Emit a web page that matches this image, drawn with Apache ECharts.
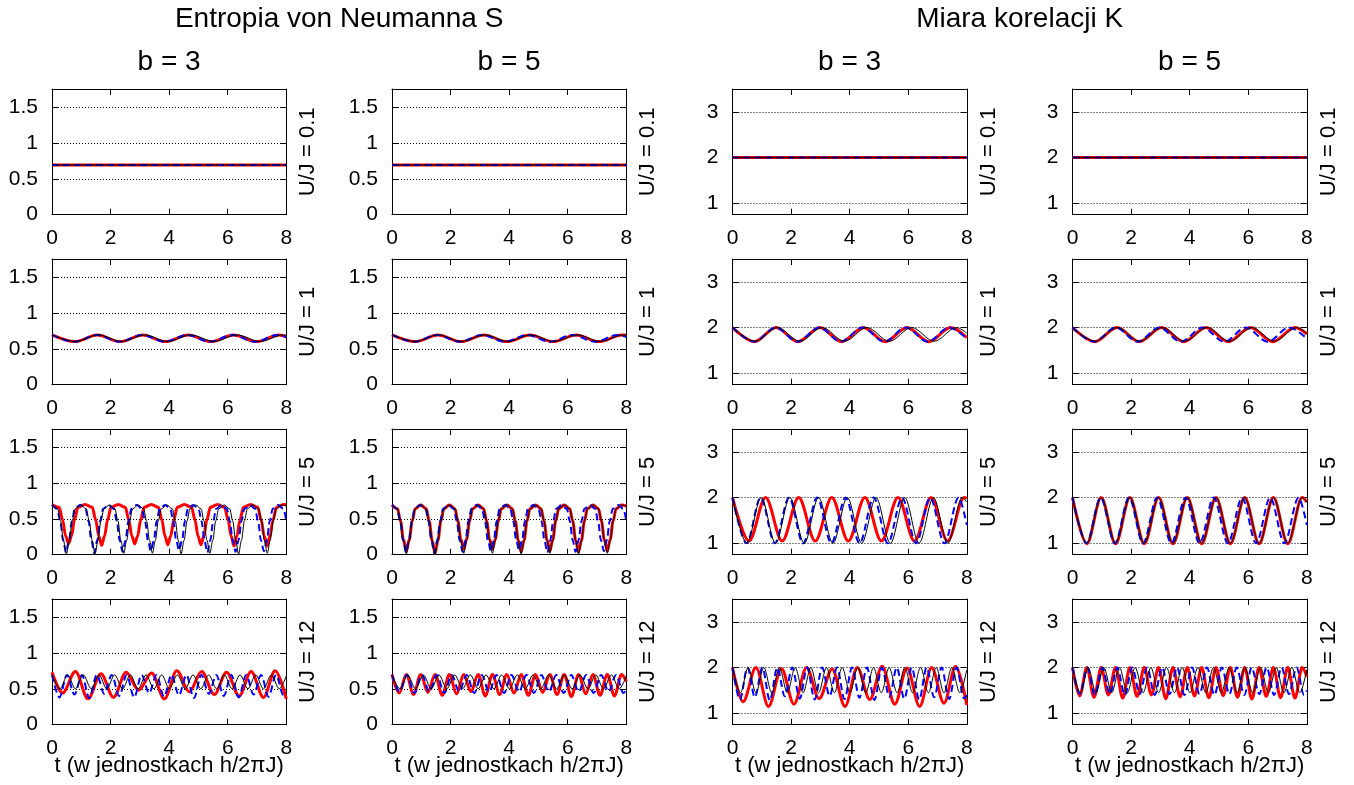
<!DOCTYPE html>
<html>
<head>
<meta charset="utf-8">
<script src="https://cdn.jsdelivr.net/npm/echarts@6/dist/echarts.min.js"></script>
<style>
  html, body { margin: 0; padding: 0; background: #fff; }
  #chart { width: 1354px; height: 785px; }
</style>
</head>
<body>
<div id="chart"></div>
<script>
// ---- text ----
const GROUP_TITLES = ['Entropia von Neumanna S', 'Miara korelacji K'];
const COL_TITLES = ['b = 3', 'b = 5', 'b = 3', 'b = 5'];
const ROW_LABELS = ['U/J = 0.1', 'U/J = 1', 'U/J = 5', 'U/J = 12'];
const X_NAME = 't (w jednostkach h/2\u03C0J)';

// ---- ticks ----
const X_TICKS = [0, 2, 4, 6, 8];
const S_TICKS = [0, 0.5, 1, 1.5];
const K_TICKS = [1, 2, 3];
const S_GRID = [0.5, 1, 1.5];
const K_GRID = [1, 2, 3];

// ---- U/J = 0.1 ----
const S_u01 = [[0,0.693],[2,0.693],[4,0.693],[6,0.693],[8,0.693]];
const K_u01 = [[0,2],[2,2],[4,2],[6,2],[8,2]];

// ---- U/J = 1 ----
const S_u1_red3 = [[0,0.693],[0.775,0.6],[1.55,0.693],[2.325,0.6],[3.1,0.693],[3.875,0.6],[4.65,0.693],[5.425,0.6],[6.2,0.693],[6.975,0.6],[7.75,0.693],[8,0.667]];
const S_u1_blue = [[0,0.693],[0.77,0.598],[1.54,0.693],[2.31,0.598],[3.08,0.693],[3.85,0.598],[4.62,0.693],[5.39,0.598],[6.16,0.693],[6.93,0.598],[7.7,0.693],[8,0.662]];
const S_u1_black = [[0,0.693],[0.79,0.602],[1.58,0.693],[2.37,0.602],[3.16,0.693],[3.95,0.602],[4.74,0.693],[5.53,0.602],[6.32,0.693],[7.11,0.602],[7.9,0.693],[8,0.69]];
const S_u1_red5 = [[0,0.693],[0.785,0.6],[1.57,0.693],[2.355,0.6],[3.14,0.693],[3.925,0.6],[4.71,0.693],[5.495,0.6],[6.28,0.693],[7.065,0.6],[7.85,0.693],[8,0.687]];

const K_u1_red3 = [[0,2],[0.745,1.69],[1.49,2],[2.235,1.69],[2.98,2],[3.725,1.69],[4.47,2],[5.215,1.69],[5.96,2],[6.705,1.69],[7.45,2],[8,1.78]];
const K_u1_blue = [[0,2],[0.74,1.69],[1.48,2],[2.22,1.69],[2.96,2],[3.7,1.69],[4.44,2],[5.18,1.69],[5.92,2],[6.66,1.69],[7.4,2],[8,1.76]];
const K_u1_black = [[0,2],[0.765,1.7],[1.53,2],[2.295,1.7],[3.06,2],[3.825,1.7],[4.59,2],[5.355,1.7],[6.12,2],[6.885,1.7],[7.65,2],[8,1.88]];
const K_u1_red5 = [[0,2],[0.76,1.69],[1.52,2],[2.28,1.69],[3.04,2],[3.8,1.69],[4.56,2],[5.32,1.69],[6.08,2],[6.84,1.69],[7.6,2],[8,1.86]];

// ---- U/J = 5 ----
const S_u5_black = [[0,0.693],
  [0.19,0.638],[0.29,0.47],[0.39,0.2],[0.49,0.01],[0.59,0.2],[0.69,0.47],[0.79,0.638],[0.98,0.693],
  [1.17,0.638],[1.27,0.47],[1.37,0.2],[1.47,0.01],[1.57,0.2],[1.67,0.47],[1.77,0.638],[1.96,0.693],
  [2.15,0.638],[2.25,0.47],[2.35,0.2],[2.45,0.02],[2.55,0.2],[2.65,0.47],[2.75,0.638],[2.94,0.693],
  [3.13,0.638],[3.23,0.47],[3.33,0.2],[3.43,0.02],[3.53,0.2],[3.63,0.47],[3.73,0.638],[3.92,0.693],
  [4.11,0.638],[4.21,0.47],[4.31,0.2],[4.41,0.01],[4.51,0.2],[4.61,0.47],[4.71,0.638],[4.9,0.693],
  [5.09,0.638],[5.19,0.47],[5.29,0.2],[5.39,0.02],[5.49,0.2],[5.59,0.47],[5.69,0.638],[5.88,0.693],
  [6.07,0.638],[6.17,0.47],[6.27,0.2],[6.37,0.01],[6.47,0.2],[6.57,0.47],[6.67,0.638],[6.86,0.693],
  [7.05,0.638],[7.15,0.47],[7.25,0.2],[7.35,0.02],[7.45,0.2],[7.55,0.47],[7.65,0.638],[7.84,0.693],
  [8,0.675]];
const S_u5_red5 = [[0,0.693],
  [0.19,0.638],[0.29,0.47],[0.39,0.21],[0.49,0.05],[0.59,0.21],[0.69,0.47],[0.79,0.638],[0.98,0.693],
  [1.17,0.638],[1.27,0.47],[1.37,0.2],[1.47,0.02],[1.57,0.2],[1.67,0.47],[1.77,0.638],[1.96,0.693],
  [2.15,0.638],[2.25,0.47],[2.35,0.22],[2.45,0.08],[2.55,0.22],[2.65,0.47],[2.75,0.638],[2.94,0.693],
  [3.13,0.638],[3.23,0.47],[3.33,0.22],[3.43,0.08],[3.53,0.22],[3.63,0.47],[3.73,0.638],[3.92,0.693],
  [4.11,0.638],[4.21,0.47],[4.31,0.2],[4.41,0.04],[4.51,0.2],[4.61,0.47],[4.71,0.638],[4.9,0.693],
  [5.09,0.638],[5.19,0.47],[5.29,0.21],[5.39,0.05],[5.49,0.21],[5.59,0.47],[5.69,0.638],[5.88,0.693],
  [6.07,0.638],[6.17,0.47],[6.27,0.2],[6.37,0.04],[6.47,0.2],[6.57,0.47],[6.67,0.638],[6.86,0.693],
  [7.05,0.638],[7.15,0.47],[7.25,0.21],[7.35,0.05],[7.45,0.21],[7.55,0.47],[7.65,0.638],[7.84,0.693],
  [8,0.675]];
const S_u5_blue = [[0,0.693],
  [0.18,0.638],[0.28,0.47],[0.38,0.2],[0.48,0.03],[0.58,0.2],[0.68,0.47],[0.78,0.638],[0.96,0.693],
  [1.145,0.638],[1.245,0.47],[1.345,0.2],[1.445,0.02],[1.545,0.2],[1.645,0.47],[1.745,0.638],[1.93,0.693],
  [2.11,0.638],[2.21,0.47],[2.31,0.2],[2.41,0.04],[2.51,0.2],[2.61,0.47],[2.71,0.638],[2.89,0.693],
  [3.075,0.638],[3.175,0.47],[3.275,0.2],[3.375,0.05],[3.475,0.2],[3.575,0.47],[3.675,0.638],[3.86,0.693],
  [4.04,0.638],[4.14,0.47],[4.24,0.2],[4.34,0.06],[4.44,0.2],[4.54,0.47],[4.64,0.638],[4.82,0.693],
  [5.005,0.638],[5.105,0.47],[5.205,0.2],[5.305,0.03],[5.405,0.2],[5.505,0.47],[5.605,0.638],[5.79,0.693],
  [5.97,0.638],[6.07,0.47],[6.17,0.2],[6.27,0.04],[6.37,0.2],[6.47,0.47],[6.57,0.638],[6.75,0.693],
  [6.935,0.638],[7.035,0.47],[7.135,0.2],[7.235,0.05],[7.335,0.2],[7.435,0.47],[7.535,0.638],[7.72,0.693],
  [7.9,0.638],[8,0.47]];
const S_u5_red3 = [[0,0.70],
  [0.245,0.66],[0.365,0.48],[0.465,0.26],[0.565,0.15],[0.665,0.26],[0.765,0.48],[0.885,0.66],[1.13,0.70],
  [1.375,0.66],[1.495,0.48],[1.595,0.26],[1.695,0.13],[1.795,0.26],[1.895,0.48],[2.015,0.66],[2.26,0.70],
  [2.505,0.66],[2.625,0.48],[2.725,0.26],[2.825,0.15],[2.925,0.26],[3.025,0.48],[3.145,0.66],[3.39,0.70],
  [3.635,0.66],[3.755,0.48],[3.855,0.26],[3.955,0.14],[4.055,0.26],[4.155,0.48],[4.275,0.66],[4.52,0.70],
  [4.765,0.66],[4.885,0.48],[4.985,0.26],[5.085,0.14],[5.185,0.26],[5.285,0.48],[5.405,0.66],[5.65,0.70],
  [5.895,0.66],[6.015,0.48],[6.115,0.26],[6.215,0.12],[6.315,0.26],[6.415,0.48],[6.535,0.66],[6.78,0.70],
  [7.025,0.66],[7.145,0.48],[7.245,0.26],[7.345,0.12],[7.445,0.26],[7.545,0.48],[7.665,0.66],[7.91,0.70],
  [8,0.70]];

const K_u5_black = [[0,2],[0.49,1],[0.98,2],[1.47,1],[1.96,2],[2.45,1],[2.94,2],[3.43,1],[3.92,2],[4.41,1],[4.9,2],[5.39,1],[5.88,2],[6.37,1],[6.86,2],[7.35,1],[7.84,2],[8,1.9]];
const K_u5_red5 = [[0,2],[0.49,0.99],[0.98,2],[1.47,0.99],[1.96,2],[2.45,0.99],[2.94,2],[3.43,0.99],[3.92,2],[4.41,0.99],[4.9,2],[5.39,0.99],[5.88,2],[6.37,0.99],[6.86,2],[7.35,0.99],[7.84,2],[8,1.9]];
const K_u5_blue = [[0,2],[0.48,1],[0.96,2],[1.445,1],[1.93,2],[2.41,1],[2.89,2],[3.375,1],[3.86,2],[4.34,1],[4.82,2],[5.305,1],[5.79,2],[6.27,1],[6.75,2],[7.235,1],[7.72,2],[8,1.4]];
const K_u5_red3 = [[0,2],[0.565,1.05],[1.13,2],[1.695,1.05],[2.26,2],[2.825,1.05],[3.39,2],[3.955,1.05],[4.52,2],[5.085,1.05],[5.65,2],[6.215,1.05],[6.78,2],[7.345,1.05],[7.91,2],[8,1.98]];

// ---- U/J = 12 ----
const S_u12_black = [[0,0.693],[0.27,0.5],[0.535,0.693],[0.8,0.5],[1.07,0.693],[1.34,0.5],[1.605,0.693],[1.87,0.5],[2.14,0.693],[2.41,0.5],[2.675,0.693],[2.94,0.5],[3.21,0.693],[3.48,0.5],[3.745,0.693],[4.01,0.5],[4.28,0.693],[4.55,0.5],[4.815,0.693],[5.08,0.5],[5.35,0.693],[5.62,0.5],[5.885,0.693],[6.15,0.5],[6.42,0.693],[6.69,0.5],[6.955,0.693],[7.22,0.5],[7.49,0.693],[7.76,0.5],[8,0.68]];
const K_u12_black = [[0,2],[0.27,1.45],[0.535,2],[0.8,1.45],[1.07,2],[1.34,1.45],[1.605,2],[1.87,1.45],[2.14,2],[2.41,1.45],[2.675,2],[2.94,1.45],[3.21,2],[3.48,1.45],[3.745,2],[4.01,1.45],[4.28,2],[4.55,1.45],[4.815,2],[5.08,1.45],[5.35,2],[5.62,1.45],[5.885,2],[6.15,1.45],[6.42,2],[6.69,1.45],[6.955,2],[7.22,1.45],[7.49,2],[7.76,1.45],[8,1.95]];

const S_u12_blue3 = [[0,0.693],[0.255,0.38],[0.51,0.693],[0.765,0.42],[1.02,0.693],[1.275,0.37],[1.53,0.693],[1.785,0.43],[2.04,0.693],[2.295,0.4],[2.55,0.693],[2.805,0.38],[3.06,0.693],[3.315,0.44],[3.57,0.693],[3.825,0.39],[4.08,0.693],[4.335,0.41],[4.59,0.693],[4.845,0.37],[5.1,0.693],[5.355,0.43],[5.61,0.693],[5.865,0.4],[6.12,0.693],[6.375,0.38],[6.63,0.693],[6.885,0.42],[7.14,0.693],[7.395,0.39],[7.65,0.693],[7.905,0.41],[8,0.45]];
const K_u12_blue3 = [[0,2],[0.255,1.3],[0.51,2],[0.765,1.35],[1.02,2],[1.275,1.28],[1.53,2],[1.785,1.37],[2.04,2],[2.295,1.32],[2.55,2],[2.805,1.3],[3.06,2],[3.315,1.38],[3.57,2],[3.825,1.31],[4.08,2],[4.335,1.34],[4.59,2],[4.845,1.29],[5.1,2],[5.355,1.36],[5.61,2],[5.865,1.32],[6.12,2],[6.375,1.3],[6.63,2],[6.885,1.35],[7.14,2],[7.395,1.31],[7.65,2],[7.905,1.33],[8,1.4]];
const S_u12_blue5 = [[0,0.693],[0.255,0.46],[0.51,0.693],[0.765,0.44],[1.02,0.693],[1.275,0.46],[1.53,0.693],[1.785,0.44],[2.04,0.693],[2.295,0.46],[2.55,0.693],[2.805,0.44],[3.06,0.693],[3.315,0.46],[3.57,0.693],[3.825,0.44],[4.08,0.693],[4.335,0.46],[4.59,0.693],[4.845,0.44],[5.1,0.693],[5.355,0.46],[5.61,0.693],[5.865,0.44],[6.12,0.693],[6.375,0.46],[6.63,0.693],[6.885,0.44],[7.14,0.693],[7.395,0.46],[7.65,0.693],[7.905,0.44],[8,0.5]];
const K_u12_blue5 = [[0,2],[0.255,1.42],[0.51,2],[0.765,1.4],[1.02,2],[1.275,1.42],[1.53,2],[1.785,1.4],[2.04,2],[2.295,1.42],[2.55,2],[2.805,1.4],[3.06,2],[3.315,1.42],[3.57,2],[3.825,1.4],[4.08,2],[4.335,1.42],[4.59,2],[4.845,1.4],[5.1,2],[5.355,1.42],[5.61,2],[5.865,1.4],[6.12,2],[6.375,1.42],[6.63,2],[6.885,1.4],[7.14,2],[7.395,1.42],[7.65,2],[7.905,1.4],[8,1.5]];

const S_u12_red5 = [[0,0.70],[0.245,0.44],[0.49,0.70],[0.735,0.42],[0.98,0.70],[1.225,0.45],[1.47,0.70],[1.715,0.41],[1.96,0.70],[2.205,0.43],[2.45,0.70],[2.695,0.46],[2.94,0.70],[3.185,0.4],[3.43,0.70],[3.675,0.42],[3.92,0.70],[4.165,0.44],[4.41,0.70],[4.655,0.41],[4.9,0.70],[5.145,0.45],[5.39,0.70],[5.635,0.42],[5.88,0.70],[6.125,0.39],[6.37,0.70],[6.615,0.43],[6.86,0.70],[7.105,0.41],[7.35,0.70],[7.595,0.4],[7.84,0.70],[8,0.6]];
const K_u12_red5 = [[0,2],[0.245,1.38],[0.49,2],[0.735,1.35],[0.98,2],[1.225,1.4],[1.47,2],[1.715,1.33],[1.96,2],[2.205,1.37],[2.45,2],[2.695,1.4],[2.94,2],[3.185,1.32],[3.43,2],[3.675,1.36],[3.92,2],[4.165,1.38],[4.41,2],[4.655,1.34],[4.9,2],[5.145,1.39],[5.39,2],[5.635,1.35],[5.88,2],[6.125,1.31],[6.37,2],[6.615,1.37],[6.86,2],[7.105,1.34],[7.35,2],[7.595,1.33],[7.84,2],[8,1.8]];

const S_u12_red3 = [[0,0.73],[0.36,0.44],[0.8,0.74],[1.23,0.36],[1.67,0.71],[2.1,0.38],[2.53,0.73],[2.96,0.48],[3.4,0.72],[3.84,0.36],[4.26,0.75],[4.69,0.46],[5.11,0.74],[5.54,0.42],[5.96,0.73],[6.39,0.4],[6.8,0.74],[7.22,0.38],[7.62,0.75],[8,0.36]];
const K_u12_red3 = [[0,2],[0.36,1.25],[0.8,2],[1.23,1.15],[1.67,1.98],[2.1,1.2],[2.53,2],[2.96,1.32],[3.4,1.97],[3.84,1.15],[4.26,2],[4.69,1.3],[5.11,2.03],[5.54,1.2],[5.96,1.99],[6.39,1.15],[6.8,2],[7.22,1.22],[7.62,2.03],[8,1.18]];

// ---- panels: [row][col] -> [red, blue, black] ----
const PANELS = [
  [[S_u01, S_u01, S_u01], [S_u01, S_u01, S_u01], [K_u01, K_u01, K_u01], [K_u01, K_u01, K_u01]],
  [[S_u1_red3, S_u1_blue, S_u1_black], [S_u1_red5, S_u1_blue, S_u1_black], [K_u1_red3, K_u1_blue, K_u1_black], [K_u1_red5, K_u1_blue, K_u1_black]],
  [[S_u5_red3, S_u5_blue, S_u5_black], [S_u5_red5, S_u5_blue, S_u5_black], [K_u5_red3, K_u5_blue, K_u5_black], [K_u5_red5, K_u5_blue, K_u5_black]],
  [[S_u12_red3, S_u12_blue3, S_u12_black], [S_u12_red5, S_u12_blue5, S_u12_black], [K_u12_red3, K_u12_blue3, K_u12_black], [K_u12_red5, K_u12_blue5, K_u12_black]]
];

// ---- layout ----
const FONT = 'Liberation Sans, Arial, Helvetica, sans-serif';
const COL_LEFT = [52, 392, 732.5, 1072.5];
const ROW_TOP = [89, 259, 429, 599];
const PLOT_W = 234.3;
const PLOT_H = 125.7;
const TICK_FONT = 21;
const LABEL_FONT = 22;
const TITLE_FONT = 28;

const grids = [], xAxes = [], yAxes = [], series = [];
const graphics = [];

function tickAxis(base) {
  return Object.assign({
    type: 'value',
    axisLine: { show: true, onZero: false, lineStyle: { color: '#000', width: 1 } },
    splitLine: { show: false }
  }, base);
}

PANELS.forEach(function (row, r) {
  row.forEach(function (lines, c) {
    const idx = grids.length;
    const isK = c >= 2;
    const yMin = isK ? 0.75 : 0;
    const yMax = isK ? 3.5 : 1.75;
    const yTicks = isK ? K_TICKS : S_TICKS;
    const yGrid = isK ? K_GRID : S_GRID;

    grids.push({ left: COL_LEFT[c], top: ROW_TOP[r], width: PLOT_W, height: PLOT_H });

    xAxes.push(tickAxis({
      gridIndex: idx, position: 'bottom', min: 0, max: 8,
      axisTick: { show: true, inside: true, length: 6, customValues: X_TICKS, lineStyle: { color: '#000' } },
      axisLabel: { show: true, customValues: X_TICKS, color: '#000', fontSize: TICK_FONT, fontFamily: FONT, margin: 13 }
    }));
    xAxes.push(tickAxis({
      gridIndex: idx, position: 'top', min: 0, max: 8,
      axisTick: { show: true, inside: true, length: 6, customValues: X_TICKS, lineStyle: { color: '#000' } },
      axisLabel: { show: false }
    }));
    yAxes.push(tickAxis({
      gridIndex: idx, position: 'left', min: yMin, max: yMax,
      axisTick: { show: true, inside: true, length: 6, customValues: yTicks, lineStyle: { color: '#000' } },
      axisLabel: { show: true, customValues: yTicks, color: '#000', fontSize: TICK_FONT, fontFamily: FONT, margin: 14 }
    }));
    yAxes.push(tickAxis({
      gridIndex: idx, position: 'right', min: yMin, max: yMax,
      axisTick: { show: true, inside: true, length: 6, customValues: yTicks, lineStyle: { color: '#000' } },
      axisLabel: { show: false }
    }));

    const styles = [
      { color: '#ff0000', width: 3, type: 'solid', z: 3 },
      { color: '#0000ff', width: 2, type: [7, 4], z: 4 },
      { color: '#000000', width: 1, type: 'solid', z: 5 }
    ];
    lines.forEach(function (data, k) {
      const s = styles[k];
      const item = {
        type: 'line',
        xAxisIndex: 2 * idx,
        yAxisIndex: 2 * idx,
        data: data,
        showSymbol: false,
        symbol: 'none',
        smooth: 0.33,
        smoothMonotone: 'x',
        z: s.z,
        silent: true,
        lineStyle: { color: s.color, width: s.width, type: s.type }
      };
      if (k === 0) {
        item.markLine = {
          silent: true,
          symbol: 'none',
          z: 2,
          label: { show: false },
          lineStyle: { color: '#000', width: 1, type: [1, 2] },
          data: yGrid.map(function (v) { return { yAxis: v }; })
        };
      }
      series.push(item);
    });

    // row label on the right of each panel
    graphics.push({
      type: 'text',
      x: COL_LEFT[c] + PLOT_W + 22,
      y: ROW_TOP[r] + PLOT_H / 2,
      rotation: Math.PI / 2,
      style: { text: ROW_LABELS[r], fill: '#000', fontSize: LABEL_FONT, fontFamily: FONT, align: 'center', verticalAlign: 'middle' }
    });
    // time axis name under the bottom row
    if (r === PANELS.length - 1) {
      graphics.push({
        type: 'text',
        x: COL_LEFT[c] + PLOT_W / 2,
        y: 766,
        style: { text: X_NAME, fill: '#000', fontSize: LABEL_FONT, fontFamily: FONT, align: 'center', verticalAlign: 'middle' }
      });
    }
  });
});

// column titles
COL_TITLES.forEach(function (t, c) {
  graphics.push({
    type: 'text',
    x: COL_LEFT[c] + PLOT_W / 2,
    y: 62,
    style: { text: t, fill: '#000', fontSize: TITLE_FONT, fontFamily: FONT, align: 'center', verticalAlign: 'middle' }
  });
});
// group titles
GROUP_TITLES.forEach(function (t, g) {
  const cx = (COL_LEFT[2 * g] + COL_LEFT[2 * g + 1] + PLOT_W) / 2;
  graphics.push({
    type: 'text',
    x: cx,
    y: 19,
    style: { text: t, fill: '#000', fontSize: TITLE_FONT, fontFamily: FONT, align: 'center', verticalAlign: 'middle' }
  });
});

const chart = echarts.init(document.getElementById('chart'), null, { renderer: 'canvas' });
chart.setOption({
  animation: false,
  backgroundColor: '#ffffff',
  grid: grids,
  xAxis: xAxes,
  yAxis: yAxes,
  series: series,
  graphic: graphics
});
</script>
</body>
</html>
